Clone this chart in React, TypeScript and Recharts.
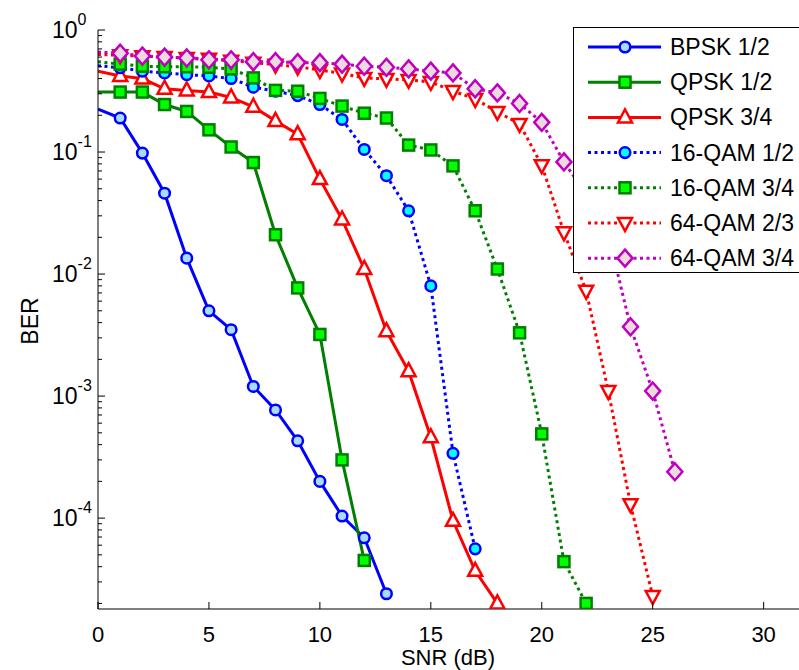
import React from "react";
import { LineChart, Line, XAxis, YAxis, Legend } from "recharts";

// SNR in dB, one point per dB
const snr = [0, 1, 2, 3, 4, 5, 6, 7, 8, 9, 10, 11, 12, 13, 14, 15, 16, 17, 18, 19, 20, 21, 22, 23, 24, 25, 26];

// BER values, starting at SNR = 0
const bpsk12 = [0.225, 0.19, 0.098, 0.046, 0.0135, 0.005, 0.0035, 0.0012, 0.00077, 0.00043, 0.0002, 0.000104, 6.9e-5, 2.4e-5];
const qpsk12 = [0.31, 0.31, 0.31, 0.245, 0.215, 0.152, 0.11, 0.082, 0.021, 0.0077, 0.0032, 0.0003, 4.5e-5];
const qpsk34 = [0.46, 0.42, 0.4, 0.33, 0.32, 0.31, 0.28, 0.235, 0.18, 0.14, 0.06, 0.028, 0.011, 0.0034, 0.0016, 0.00046, 9.5e-5, 3.7e-5, 2.0e-5];
const qam16_12 = [0.51, 0.49, 0.46, 0.445, 0.43, 0.42, 0.4, 0.34, 0.315, 0.29, 0.245, 0.185, 0.105, 0.064, 0.033, 0.008, 0.00034, 5.6e-5];
const qam16_34 = [0.55, 0.525, 0.505, 0.5, 0.5, 0.495, 0.48, 0.405, 0.32, 0.315, 0.275, 0.238, 0.208, 0.19, 0.114, 0.104, 0.077, 0.033, 0.011, 0.0033, 0.00049, 4.4e-5, 2.0e-5];
const qam64_23 = [0.63, 0.62, 0.61, 0.6, 0.59, 0.58, 0.56, 0.54, 0.52, 0.5, 0.47, 0.44, 0.405, 0.397, 0.39, 0.375, 0.316, 0.272, 0.213, 0.17, 0.078, 0.022, 0.0073, 0.0011, 0.00013, 2.3e-5];
const qam64_34 = [0.66, 0.645, 0.612, 0.6, 0.59, 0.57, 0.57, 0.55, 0.55, 0.54, 0.54, 0.525, 0.505, 0.495, 0.48, 0.46, 0.445, 0.33, 0.305, 0.25, 0.175, 0.083, 0.045, 0.021, 0.0037, 0.0011, 0.00024];

const xTicks = [0, 5, 10, 15, 20, 25, 30];
const yMajor = [1, 0.1, 0.01, 0.001, 0.0001];
const yMinor = [2, 3, 4, 5, 6, 7, 8, 9].flatMap((m) => [m * 1e-5, m * 1e-4, m * 1e-3, m * 1e-2, m * 1e-1]);

const FONT = '"Liberation Sans", Arial, Helvetica, sans-serif';
const DOTS = "3 3.5";

type Shape = "circle" | "square" | "triUp" | "triDown" | "diamond";

const series: { key: string; name: string; values: number[]; color: string; fill: string; shape: Shape; dotted: boolean }[] = [
  { key: "bpsk12", name: "BPSK 1/2", values: bpsk12, color: "#0000ff", fill: "#a8dcff", shape: "circle", dotted: false },
  { key: "qpsk12", name: "QPSK 1/2", values: qpsk12, color: "#007f00", fill: "#00ff00", shape: "square", dotted: false },
  { key: "qpsk34", name: "QPSK 3/4", values: qpsk34, color: "#ff0000", fill: "#ffffff", shape: "triUp", dotted: false },
  { key: "qam16_12", name: "16-QAM 1/2", values: qam16_12, color: "#0000ff", fill: "#00ffff", shape: "circle", dotted: true },
  { key: "qam16_34", name: "16-QAM 3/4", values: qam16_34, color: "#007f00", fill: "#00ff00", shape: "square", dotted: true },
  { key: "qam64_23", name: "64-QAM 2/3", values: qam64_23, color: "#ff0000", fill: "#ffffff", shape: "triDown", dotted: true },
  { key: "qam64_34", name: "64-QAM 3/4", values: qam64_34, color: "#bf00bf", fill: "#ecdade", shape: "diamond", dotted: true },
];

const data = snr.map((s, i) => {
  const row: Record<string, number> = { snr: s };
  series.forEach((se) => {
    if (i < se.values.length) row[se.key] = se.values[i];
  });
  return row;
});

function Marker({ shape, cx, cy, stroke, fill }: { shape: Shape; cx: number; cy: number; stroke: string; fill: string }) {
  const common = { fill, stroke, strokeWidth: 2.5 };
  switch (shape) {
    case "circle":
      return <circle cx={cx} cy={cy} r={5.3} {...common} />;
    case "square":
      return <rect x={cx - 5.5} y={cy - 5.5} width={11} height={11} {...common} />;
    case "triUp":
      return <polygon points={`${cx},${cy - 8} ${cx - 7},${cy + 5} ${cx + 7},${cy + 5}`} {...common} />;
    case "triDown":
      return <polygon points={`${cx},${cy + 8} ${cx - 7},${cy - 5} ${cx + 7},${cy - 5}`} {...common} />;
    default:
      return <polygon points={`${cx},${cy - 8.5} ${cx + 7.5},${cy} ${cx},${cy + 8.5} ${cx - 7.5},${cy}`} {...common} />;
  }
}

const YTick = (props: any) => {
  const { x, y, payload } = props;
  const lg = Math.log10(payload.value);
  const exp = Math.round(lg);
  const major = Math.abs(lg - exp) < 1e-6;
  return (
    <g>
      <line x1={x} x2={x + (major ? 7 : 4)} y1={y} y2={y} stroke="#000" strokeWidth={1} />
      {major && (
        <text x={52} y={y + 8} fontSize={23} fontFamily={FONT} fill="#000">
          10
          <tspan dy={-13} fontSize={16}>
            {exp === 0 ? "0" : `-${Math.abs(exp)}`}
          </tspan>
        </text>
      )}
    </g>
  );
};

const XTick = (props: any) => {
  const { x, y, payload } = props;
  return (
    <g>
      <line x1={x} x2={x} y1={y} y2={y - 7} stroke="#000" strokeWidth={1} />
      <text x={x} y={y + 33} textAnchor="middle" fontSize={22} fontFamily={FONT} fill="#000">
        {payload.value}
      </text>
    </g>
  );
};

const TopTick = (props: any) => {
  const { x, y } = props;
  return <line x1={x} x2={x} y1={y} y2={y + 7} stroke="#000" strokeWidth={1} />;
};

const renderLegend = () => (
  <svg width={240} height={250} style={{ display: "block" }}>
    <rect x={0.5} y={0.5} width={260} height={245} fill="#fff" stroke="#000" strokeWidth={1} />
    {series.map((s, i) => {
      const y = 20 + i * 35.2;
      return (
        <g key={s.key}>
          <line x1={15} x2={88} y1={y} y2={y} stroke={s.color} strokeWidth={3} strokeDasharray={s.dotted ? DOTS : undefined} />
          <Marker shape={s.shape} cx={52} cy={y} stroke={s.color} fill={s.fill} />
          <text x={97} y={y + 8} fontSize={23} fontFamily={FONT} fill="#000">
            {s.name}
          </text>
        </g>
      );
    })}
  </svg>
);

export default function App() {
  return (
    <div style={{ position: "absolute", left: 0, top: 0, width: 799, height: 670, overflow: "hidden", background: "#fff" }}>
      <LineChart width={808} height={670} data={data} margin={{ top: 30, right: 0, bottom: 0, left: 0 }}>
        <XAxis
          dataKey="snr"
          type="number"
          domain={[0, 32]}
          ticks={xTicks}
          interval={0}
          height={61}
          tickSize={0}
          tickMargin={0}
          tickLine={false}
          tick={<XTick />}
          axisLine={{ stroke: "#000", strokeWidth: 1 }}
          allowDataOverflow
          label={{
            content: () => (
              <text x={448} y={665} textAnchor="middle" fontSize={22} fontFamily={FONT} fill="#000">
                SNR (dB)
              </text>
            ),
          }}
        />
        <XAxis
          xAxisId="top"
          orientation="top"
          dataKey="snr"
          type="number"
          domain={[0, 32]}
          ticks={xTicks}
          interval={0}
          height={0}
          tickSize={0}
          tickMargin={0}
          tickLine={false}
          tick={<TopTick />}
          axisLine={{ stroke: "#000", strokeWidth: 1 }}
          allowDataOverflow
        />
        <YAxis
          type="number"
          scale="log"
          domain={[1.8e-5, 1]}
          ticks={[...yMajor, ...yMinor]}
          interval={0}
          width={98}
          tickSize={0}
          tickMargin={0}
          tickLine={false}
          tick={<YTick />}
          axisLine={{ stroke: "#000", strokeWidth: 1 }}
          allowDataOverflow
          label={{
            content: () => (
              <text transform="translate(38,321) rotate(-90)" textAnchor="middle" fontSize={23} fontFamily={FONT} fill="#000">
                BER
              </text>
            ),
          }}
        />
        {series.map((s) => (
          <Line
            key={s.key}
            dataKey={s.key}
            name={s.name}
            type="linear"
            stroke={s.color}
            strokeWidth={3}
            strokeDasharray={s.dotted ? DOTS : undefined}
            isAnimationActive={false}
            activeDot={false}
            dot={(p: any) =>
              p.payload.snr === 0 || p.value == null ? (
                <g key={`${s.key}-${p.index}`} />
              ) : (
                <g key={`${s.key}-${p.index}`}>
                  <Marker shape={s.shape} cx={p.cx} cy={p.cy} stroke={s.color} fill={s.fill} />
                </g>
              )
            }
          />
        ))}
        <Legend
          content={renderLegend}
          layout="horizontal"
          verticalAlign="middle"
          wrapperStyle={{ left: 573, top: 27, width: 240, height: 250 }}
        />
      </LineChart>
    </div>
  );
}
